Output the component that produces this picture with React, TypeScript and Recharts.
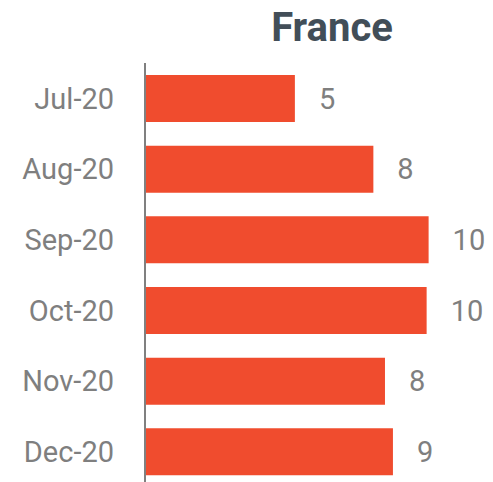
import React from "react";
import { BarChart, Bar, XAxis, YAxis, LabelList } from "recharts";

const months = ["Jul-20", "Aug-20", "Sep-20", "Oct-20", "Nov-20", "Dec-20"];
const values = [5.29, 8.06, 10.01, 9.94, 8.47, 8.75];
const valueLabels = ["5", "8", "10", "10", "8", "9"];
const title = "France";

const data = months.map((m, i) => ({ month: m, value: values[i], label: valueLabels[i] }));

export default function App() {
  return (
    <div style={{ position: "absolute", left: 0, top: 0, width: 493, height: 482, overflow: "hidden", background: "#fff", fontFamily: "Roboto, sans-serif" }}>
      <div
        style={{
          position: "absolute",
          left: 232,
          top: 8,
          width: 200,
          textAlign: "center",
          fontSize: 40,
          lineHeight: "40px",
          fontWeight: 700,
          color: "#424e58",
          fontFamily: "Roboto, sans-serif",
        }}
      >
        {title}
      </div>
      <BarChart
        width={493}
        height={487}
        data={data}
        layout="vertical"
        margin={{ top: 63, right: 8, bottom: 0, left: 0 }}
        barSize={47}
        style={{ position: "absolute", left: 0, top: 0 }}
      >
        <XAxis type="number" domain={[0, 12]} hide />
        <YAxis
          type="category"
          dataKey="month"
          width={145}
          tickLine={false}
          tickSize={0}
          tickMargin={31}
          axisLine={{ stroke: "#808080", strokeWidth: 2 }}
          tick={{ fill: "#7f7f7f", fontSize: 29, fontFamily: "Roboto, sans-serif" }}
        />
        <Bar dataKey="value" fill="#f04c2e" isAnimationActive={false}>
          <LabelList
            dataKey="label"
            position="right"
            offset={24}
            fill="#7f7f7f"
            fontSize={29}
            fontFamily="Roboto, sans-serif"
          />
        </Bar>
      </BarChart>
    </div>
  );
}
